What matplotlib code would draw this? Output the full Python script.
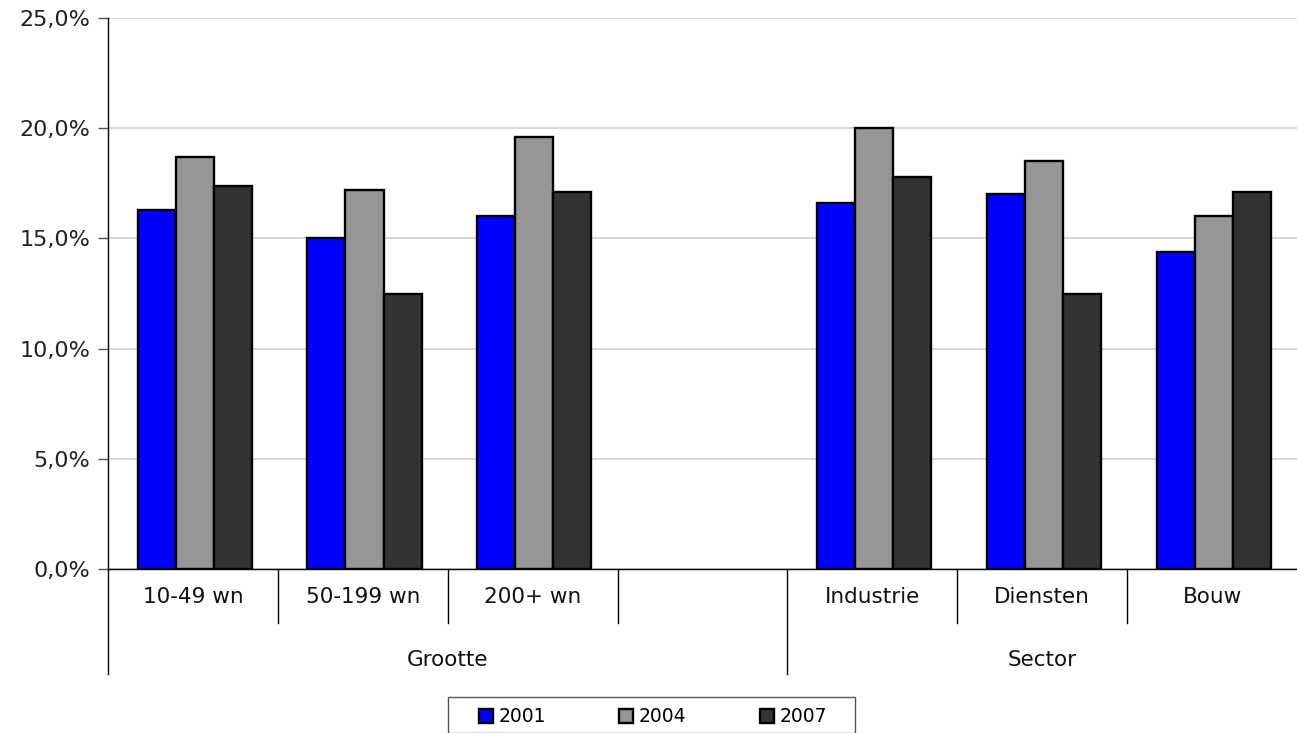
import numpy as np
import matplotlib
matplotlib.use("Agg")
import matplotlib.pyplot as plt
from matplotlib.patches import Rectangle
from matplotlib.ticker import FuncFormatter, MultipleLocator
import matplotlib.transforms as mtransforms

# --- Data ---
categories = ["10-49 wn", "50-199 wn", "200+ wn", "", "Industrie", "Diensten", "Bouw"]
groups = ["Grootte", "Sector"]
group_bounds = [(0, 4), (4, 7)]
years = ["2001", "2004", "2007"]
v2001 = [16.3, 15.0, 16.0, np.nan, 16.6, 17.0, 14.4]
v2004 = [18.7, 17.2, 19.6, np.nan, 20.0, 18.5, 16.0]
v2007 = [17.4, 12.5, 17.1, np.nan, 17.8, 12.5, 17.1]

BLUE = "#0000ff"
GRAY = "#969696"
DARK = "#333333"

W, H = 1297, 733
fig = plt.figure(figsize=(W / 100, H / 100), dpi=100)
ax = fig.add_axes([108 / W, 1 - 569 / H, (W - 108) / W, (569 - 18) / H])

x = np.arange(len(categories)) + 0.51
bw = 0.224
series = [v2001, v2004, v2007]
colors = [BLUE, GRAY, DARK]
handles = []
for i, (vals, col, lab) in enumerate(zip(series, colors, years)):
    b = ax.bar(x + (i - 1) * bw, vals, bw, color=col, edgecolor="black",
               linewidth=1.7, label=lab, zorder=3)
    handles.append(b)

ax.set_xlim(0, len(categories))
ax.set_ylim(0, 25)
ax.yaxis.set_major_locator(MultipleLocator(5))
ax.yaxis.set_major_formatter(FuncFormatter(lambda v, p: f"{v:.1f}%".replace(".", ",")))
ax.grid(axis="y", color="#cfcfcf", linewidth=1.2, zorder=0)
ax.set_axisbelow(True)
for s in ["top", "right"]:
    ax.spines[s].set_visible(False)
ax.spines["left"].set_color("black")
ax.spines["bottom"].set_color("black")
ax.spines["left"].set_linewidth(1.0)
ax.spines["bottom"].set_linewidth(1.0)
ax.tick_params(axis="y", length=7, width=1, color="#555555", labelsize=16,
               labelcolor="#222222", pad=6)
ax.set_xticks([])

# multi-level category axis
trans = mtransforms.blended_transform_factory(ax.transData, ax.transAxes)
h_ax = 569 - 18
lvl1_y = -(623 - 569) / h_ax
lvl2_y = -(674 - 569) / h_ax
for k in range(1, len(categories)):
    if k in [gb[0] for gb in group_bounds]:
        continue
    ax.plot([k, k], [0, lvl1_y], color="black", lw=1, transform=trans, clip_on=False)
for a, b in group_bounds:
    ax.plot([a, a], [0, lvl2_y], color="black", lw=1, transform=trans, clip_on=False)
for xi, lab in zip(np.arange(len(categories)) + 0.5, categories):
    ax.text(xi, -(597 - 569) / h_ax, lab, transform=trans, ha="center", va="center",
            fontsize=15.5, color="#111111")
for (a, b), g in zip(group_bounds, groups):
    ax.text((a + b) / 2, -(660 - 569) / h_ax, g, transform=trans, ha="center",
            va="center", fontsize=15.5, color="#111111")

# legend
fig.patches.append(Rectangle((448 / W, 0), (855 - 448) / W, 1 - 697 / H,
                             transform=fig.transFigure, fill=False,
                             edgecolor="#555555", linewidth=1.0))
fig.legend(handles=handles, labels=years, loc="center", ncol=3,
           bbox_to_anchor=(653 / W, 1 - 717 / H), frameon=False, fontsize=13.5,
           handlelength=0.75, handleheight=0.75, handletextpad=0.3,
           columnspacing=3.9, borderpad=0)

fig.savefig("out.png", dpi=100)
